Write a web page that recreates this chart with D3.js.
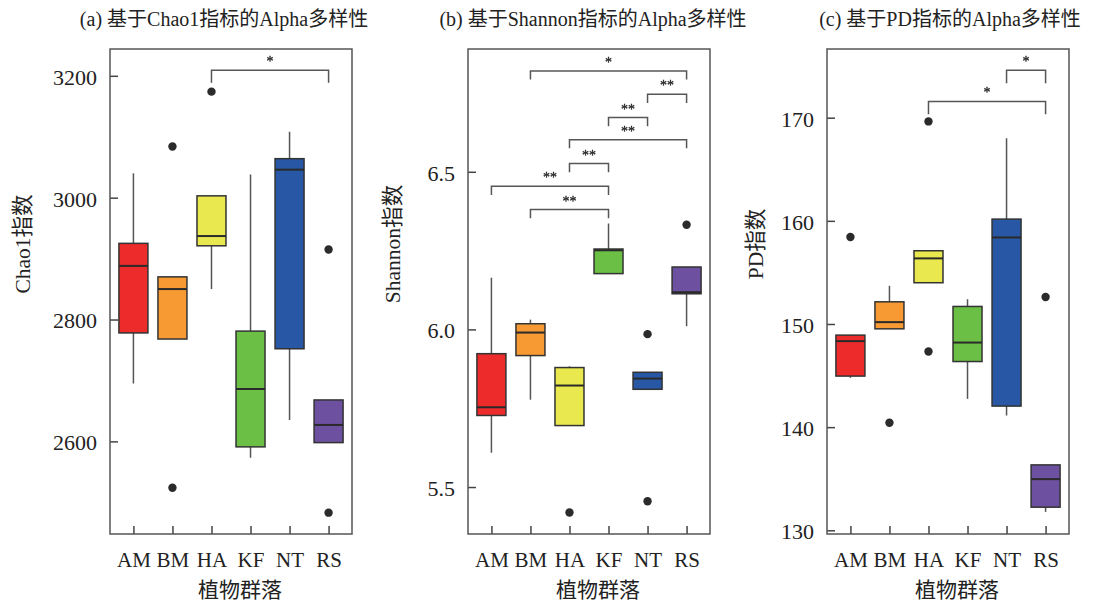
<!DOCTYPE html>
<html>
<head>
<meta charset="utf-8">
<script src="https://cdn.jsdelivr.net/npm/d3@7"></script>
<style>
  body { margin: 0; background: #fff; }
  svg text { font-family: "Liberation Serif", "Times New Roman", "Noto Sans CJK SC", serif; fill: #222; }
  .stars { opacity: 0.99; will-change: transform; }
</style>
</head>
<body>
<svg id="chart" width="1094" height="606"></svg>
<script>
var groups = ["AM", "BM", "HA", "KF", "NT", "RS"];
var groupColors = ["#EE2B2B", "#F79A34", "#E9E84E", "#6CBF45", "#2757A5", "#6D50A0"];

// [whisker low, q1, median, q3, whisker high]
var chao1Stats = [
  [2695, 2778, 2888, 2925, 3040],
  [2768, 2768, 2850, 2870, 2870],
  [2850, 2921, 2937, 3003, 3003],
  [2573, 2591, 2686, 2781, 3038],
  [2635, 2752, 3046, 3064, 3108],
  [2598, 2598, 2627, 2668, 2668]
];
var chao1Outliers = [[], [3084, 2524], [3174], [], [], [2915, 2483]];
var chao1Brackets = [["HA", "RS", 3209, "*"]];
var chao1Ticks = [2600, 2800, 3000, 3200];

var shannonStats = [
  [5.609, 5.727, 5.753, 5.923, 6.164],
  [5.777, 5.917, 5.990, 6.018, 6.031],
  [5.695, 5.695, 5.822, 5.879, 5.883],
  [6.177, 6.177, 6.251, 6.255, 6.336],
  [5.810, 5.810, 5.844, 5.864, 5.864],
  [6.010, 6.113, 6.118, 6.198, 6.198]
];
var shannonOutliers = [[], [], [5.419], [], [5.985, 5.455], [6.332]];
var shannonBrackets = [
  ["BM", "RS", 6.820, "*"],
  ["NT", "RS", 6.746, "**"],
  ["KF", "NT", 6.672, "**"],
  ["HA", "RS", 6.602, "**"],
  ["HA", "KF", 6.526, "**"],
  ["AM", "KF", 6.454, "**"],
  ["BM", "KF", 6.380, "**"]
];
var shannonTicks = [5.5, 6.0, 6.5];

var pdStats = [
  [144.78, 144.95, 148.34, 148.92, 148.92],
  [149.53, 149.53, 150.18, 152.15, 153.70],
  [154.00, 154.00, 156.36, 157.10, 157.10],
  [142.74, 146.36, 148.20, 151.70, 152.40],
  [141.13, 142.04, 158.39, 160.17, 168.00],
  [131.78, 132.24, 134.96, 136.34, 136.34]
];
var pdOutliers = [[158.43], [140.42], [169.64, 147.33], [], [], [152.61]];
var pdBrackets = [
  ["NT", "RS", 174.59, "*"],
  ["HA", "RS", 171.58, "*"]
];
var pdTicks = [130, 140, 150, 160, 170];

var svg = d3.select("#chart");
var frameTop = 49, frameBottom = 534, frameWidth = 242;

var panels = [
  { left: 110, title: "(a) 基于Chao1指标的Alpha多样性", yLabel: "Chao1指数", yLabelX: 22,
    domain: [2448, 3244], stats: chao1Stats, outliers: chao1Outliers, brackets: chao1Brackets,
    ticks: chao1Ticks, fmt: d3.format("d"), leg: 12.5, titleShift: -7 },
  { left: 468, title: "(b) 基于Shannon指标的Alpha多样性", yLabel: "Shannon指数", yLabelX: 392,
    domain: [5.351, 6.8895], stats: shannonStats, outliers: shannonOutliers, brackets: shannonBrackets,
    ticks: shannonTicks, fmt: d3.format(".1f"), leg: 8.7, titleShift: 4 },
  { left: 827, title: "(c) 基于PD指标的Alpha多样性", yLabel: "PD指数", yLabelX: 755,
    domain: [129.64, 176.66], stats: pdStats, outliers: pdOutliers, brackets: pdBrackets,
    ticks: pdTicks, fmt: d3.format("d"), leg: 12.8, titleShift: 2 }
];

panels.forEach(function(p) {
  var g = svg.append("g").attr("transform", "translate(" + p.left + "," + frameTop + ")");
  var h = frameBottom - frameTop;

  var x = d3.scalePoint().domain(groups).range([0, frameWidth]).padding(0.6);
  var y = d3.scaleLinear().domain(p.domain).range([h, 0]);
  var boxW = 29;

  // axes with inward ticks
  var yAxis = d3.axisLeft(y).tickValues(p.ticks).tickFormat(p.fmt)
    .tickSizeInner(-8).tickSizeOuter(0).tickPadding(13);
  var yg = g.append("g").call(yAxis);
  yg.select(".domain").remove();
  yg.attr("font-size", null).attr("font-family", null);
  yg.selectAll(".tick line").attr("stroke", "#444").attr("stroke-width", 1.5);
  yg.selectAll(".tick text").style("font-size", "22px").attr("dy", "0.38em").attr("fill", "#222");

  var xAxis = d3.axisBottom(x).tickSizeInner(-8).tickSizeOuter(0).tickPadding(18);
  var xg = g.append("g").attr("transform", "translate(0," + h + ")").call(xAxis);
  xg.select(".domain").remove();
  xg.attr("font-size", null).attr("font-family", null);
  xg.selectAll(".tick line").attr("stroke", "#444").attr("stroke-width", 1.5);
  xg.selectAll(".tick text").style("font-size", "21px").attr("fill", "#222");

  // whiskers
  var boxes = g.selectAll(".box").data(p.stats).enter().append("g").attr("class", "box");
  boxes.append("line")
    .attr("x1", function(d, i) { return x(groups[i]); })
    .attr("x2", function(d, i) { return x(groups[i]); })
    .attr("y1", function(d) { return y(d[0]); })
    .attr("y2", function(d) { return y(d[4]); })
    .attr("stroke", "#555").attr("stroke-width", 1.5);

  boxes.append("rect")
    .attr("x", function(d, i) { return x(groups[i]) - boxW / 2; })
    .attr("y", function(d) { return y(d[3]); })
    .attr("width", boxW)
    .attr("height", function(d) { return Math.max(y(d[1]) - y(d[3]), 0.5); })
    .attr("fill", function(d, i) { return groupColors[i]; })
    .attr("stroke", "#333").attr("stroke-width", 1.5);

  boxes.append("line")
    .attr("x1", function(d, i) { return x(groups[i]) - boxW / 2; })
    .attr("x2", function(d, i) { return x(groups[i]) + boxW / 2; })
    .attr("y1", function(d) { return y(d[2]); })
    .attr("y2", function(d) { return y(d[2]); })
    .attr("stroke", "#2a2a2a").attr("stroke-width", 2);

  // outliers
  var pts = [];
  p.outliers.forEach(function(list, i) {
    list.forEach(function(v) { pts.push({ g: groups[i], v: v }); });
  });
  g.selectAll(".outlier").data(pts).enter().append("circle")
    .attr("class", "outlier")
    .attr("cx", function(d) { return x(d.g); })
    .attr("cy", function(d) { return y(d.v); })
    .attr("r", 4.2)
    .attr("fill", "#2b2b2b");

  // significance brackets
  var br = g.append("g").attr("class", "stars")
    .selectAll(".bracket").data(p.brackets).enter().append("g").attr("class", "bracket");
  br.append("path")
    .attr("d", function(d) {
      var x1 = x(d[0]), x2 = x(d[1]), yy = y(d[2]);
      return "M" + x1 + "," + (yy + p.leg) + "V" + yy + "H" + x2 + "V" + (yy + p.leg);
    })
    .attr("fill", "none").attr("stroke", "#555").attr("stroke-width", 1.5);
  br.append("text")
    .attr("x", function(d) { return (x(d[0]) + x(d[1])) / 2; })
    .attr("y", function(d) { return y(d[2]) - 4; })
    .attr("text-anchor", "middle")
    .attr("font-size", 14)
    .attr("stroke", "#222").attr("stroke-width", 0.3)
    .text(function(d) { return d[3]; });

  // frame
  g.append("rect")
    .attr("width", frameWidth).attr("height", h)
    .attr("fill", "none").attr("stroke", "#555").attr("stroke-width", 1.5);

  // titles and labels
  svg.append("text")
    .attr("x", p.left + frameWidth / 2 + p.titleShift)
    .attr("y", 26)
    .attr("text-anchor", "middle")
    .attr("font-size", 20)
    .text(p.title);

  svg.append("text")
    .attr("transform", "translate(" + (p.yLabelX + 7.5) + ",244) rotate(-90)")
    .attr("text-anchor", "middle")
    .attr("font-size", 21.5)
    .text(p.yLabel);

  svg.append("text")
    .attr("x", p.left + frameWidth / 2 + 9)
    .attr("y", 597)
    .attr("text-anchor", "middle")
    .attr("font-size", 21)
    .text("植物群落");
});
</script>
</body>
</html>
